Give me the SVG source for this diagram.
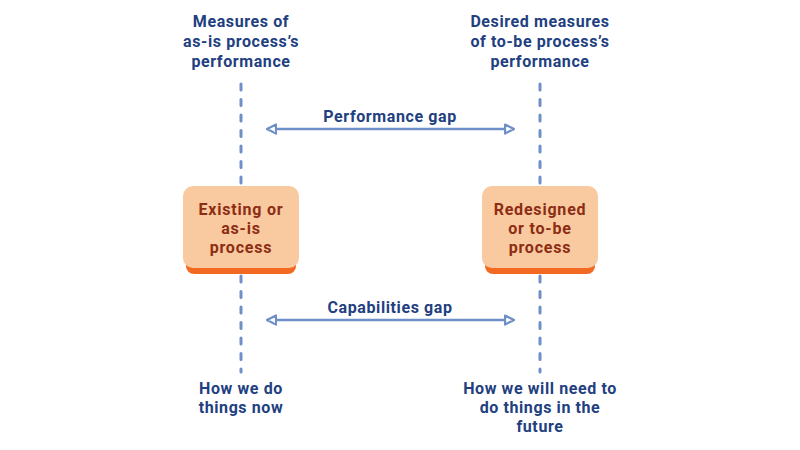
<svg xmlns="http://www.w3.org/2000/svg" width="800" height="450" viewBox="0 0 800 450">
<style>
.lbl{font-family:Roboto,"Liberation Sans",sans-serif;font-weight:700;font-size:16px;letter-spacing:0.6px;fill:#22407f;text-anchor:middle}
.box{fill:#f9c99f}
.shadow{fill:#f26a22}
.btxt{font-family:Roboto,"Liberation Sans",sans-serif;font-weight:700;font-size:16px;letter-spacing:0.8px;fill:#8c2d14;text-anchor:middle}
.dash{stroke:#6f8fc8;stroke-width:3;stroke-linecap:round;stroke-dasharray:6 9.5;fill:none}
.arr{stroke:#6f8fc8;stroke-width:2.5;fill:none;marker-start:url(#head);marker-end:url(#head)}
</style>
<defs>
<marker id="head" viewBox="0 0 10 10" refX="9" refY="5" markerWidth="4.5" markerHeight="4.5" orient="auto-start-reverse" markerUnits="strokeWidth">
<path d="M1,1 L9,5 L1,9 Z" fill="#ffffff" stroke="#6f8fc8" stroke-width="2" stroke-linejoin="round"/>
</marker>
</defs>
<rect width="800" height="450" fill="#ffffff"/>
<g id="connectors">
<line class="dash" x1="241" y1="84" x2="241" y2="186"/>
<line class="dash" x1="241" y1="276" x2="241" y2="372"/>
<line class="dash" x1="540" y1="84" x2="540" y2="186"/>
<line class="dash" x1="540" y1="276" x2="540" y2="372"/>
<line class="arr" x1="267" y1="129" x2="514" y2="129"/>
<line class="arr" x1="267" y1="320" x2="514" y2="320"/>
</g>
<g id="as-is">
<rect class="shadow" x="186" y="250" width="110" height="24" rx="8"/>
<rect class="box" x="183" y="186" width="116" height="82" rx="10"/>
<text class="btxt" x="241" y="215">Existing or</text>
<text class="btxt" x="241" y="234">as-is</text>
<text class="btxt" x="241" y="253">process</text>
</g>
<g id="to-be">
<rect class="shadow" x="485" y="250" width="110" height="24" rx="8"/>
<rect class="box" x="482" y="186" width="116" height="82" rx="10"/>
<text class="btxt" x="540" y="215">Redesigned</text>
<text class="btxt" x="540" y="234">or to-be</text>
<text class="btxt" x="540" y="253">process</text>
</g>
<g id="as-is-measures">
<text class="lbl" x="241" y="27">Measures of</text>
<text class="lbl" x="241" y="47">as-is process’s</text>
<text class="lbl" x="241" y="67">performance</text>
</g>
<g id="to-be-measures">
<text class="lbl" x="540" y="27">Desired measures</text>
<text class="lbl" x="540" y="47">of to-be process’s</text>
<text class="lbl" x="540" y="67">performance</text>
</g>
<g id="performance-gap">
<text class="lbl" x="390" y="122">Performance gap</text>
</g>
<g id="capabilities-gap">
<text class="lbl" x="390" y="313">Capabilities gap</text>
</g>
<g id="now">
<text class="lbl" x="241" y="394">How we do</text>
<text class="lbl" x="241" y="413">things now</text>
</g>
<g id="future">
<text class="lbl" x="540" y="394">How we will need to</text>
<text class="lbl" x="540" y="413">do things in the</text>
<text class="lbl" x="540" y="432">future</text>
</g>
</svg>
